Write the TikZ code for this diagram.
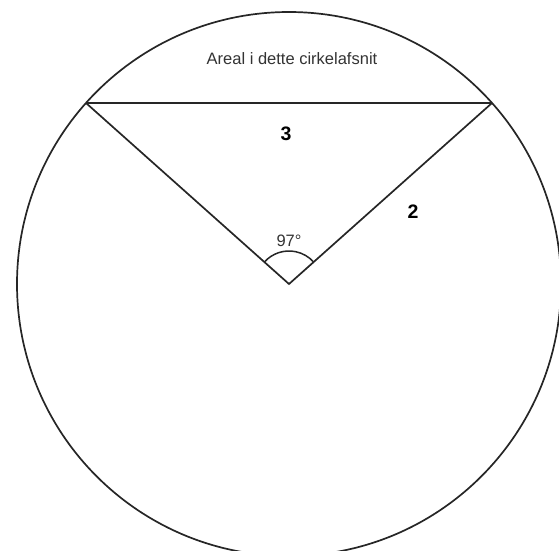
\documentclass[tikz,border=0pt]{standalone}
\usepackage{fontspec}
\setmainfont{Liberation Sans}
\usetikzlibrary{calc}
\begin{document}
\begin{tikzpicture}[x=1pt,y=-1pt,
  ln/.style={line width=1.7pt, draw=black!85},
  lbl/.style={font=\fontsize{16.5}{18}\selectfont, text=black!80, inner sep=0pt},
  blbl/.style={font=\fontsize{19.5}{21}\selectfont\bfseries, inner sep=0pt}]
\useasboundingbox (0,0) rectangle (559,550);
\begin{scope}
\clip (0,0) rectangle (559,550);
\coordinate (O) at (289,284);
\coordinate (A) at (86,103);
\coordinate (B) at (492,103);
\draw[ln] (O) circle (272);
\draw[ln] (A) -- (B);
\draw[ln] (A) -- (O) -- (B);
\draw[ln, line width=1.5pt] ($(O)!33pt!(A)$) arc[start angle=-138.3, end angle=-41.7, radius=33];
\end{scope}
\node[lbl] (t1) at (292,59) {Areal i dette cirkelafsnit};
\node[lbl] (t2) at (289,241) {97°};
\node[blbl] (t3) at (286,134) {3};
\node[blbl] (t4) at (413,212) {2};
\end{tikzpicture}
\end{document}
